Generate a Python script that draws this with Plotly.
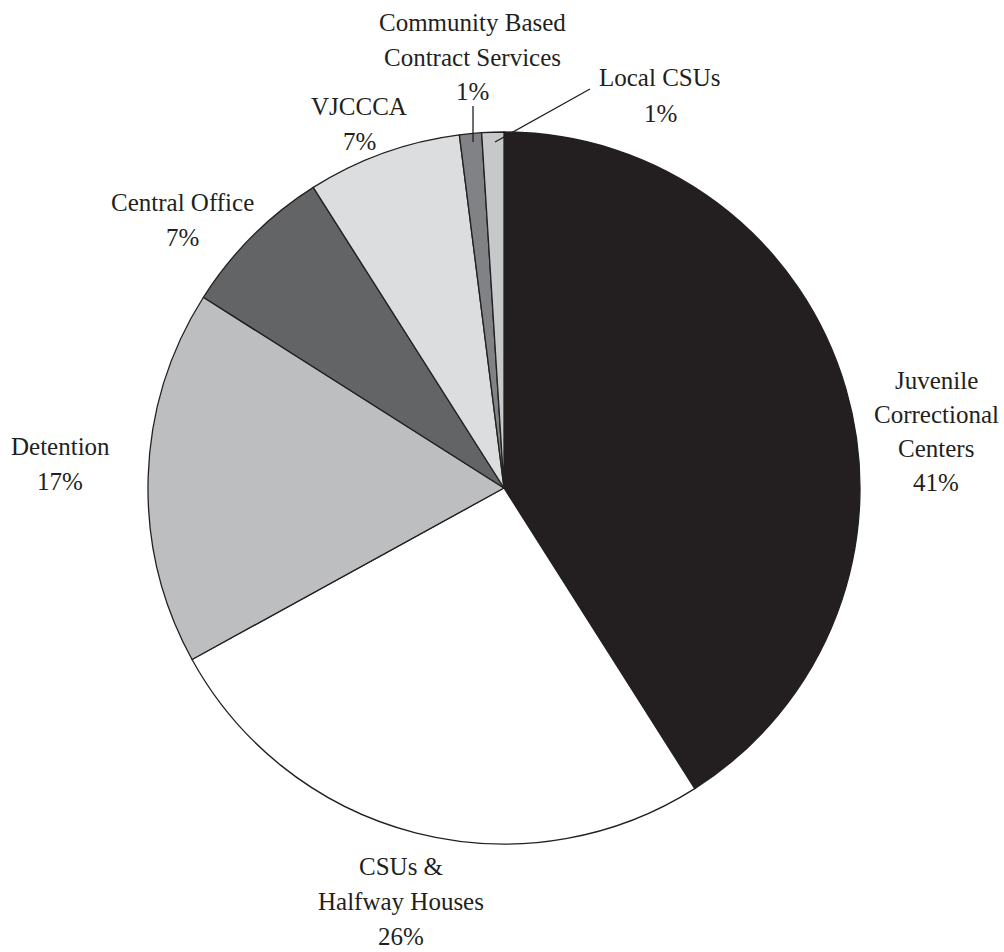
import plotly.graph_objects as go

# ---- data ----
categories = ["Juvenile Correctional Centers", "CSUs & Halfway Houses", "Detention",
              "Central Office", "VJCCCA", "Community Based Contract Services", "Local CSUs"]
values = [41, 26, 17, 7, 7, 1, 1]
label_lines = [["Juvenile", "Correctional", "Centers"],
               ["CSUs &", "Halfway Houses"],
               ["Detention"],
               ["Central Office"],
               ["VJCCCA"],
               ["Community Based", "Contract Services"],
               ["Local CSUs"]]
colors = ["#231f20", "#ffffff", "#bcbec0", "#636466", "#dcddde", "#808285", "#c7c8ca"]

# ---- layout (pixels) ----
W, H = 1004, 952
cx, cy, r = 504, 488, 356
label_pos = [(936, 380), (401, 866), (60, 446), (182, 202), (359, 106), (472, 22), (660, 77)]
line_gap = [34, 35, 35, 35, 35, 35, 36]
TEXT = "#231f20"
FONT = "Liberation Serif"
FS = 25


def px(x):
    return x / W


def py(y):
    return 1 - y / H


fig = go.Figure(go.Pie(
    labels=categories, values=values, sort=False, direction="clockwise", rotation=0,
    marker=dict(colors=colors, line=dict(color="#231f20", width=1.3)),
    textinfo="none", hoverinfo="label+percent", showlegend=False,
    domain=dict(x=[px(cx - r), px(cx + r)], y=[py(cy + r), py(cy - r)]),
))

annotations = []
for lines, v, (lx, ly), gap in zip(label_lines, values, label_pos, line_gap):
    all_lines = lines + [f"{v}%"]
    for i, t in enumerate(all_lines):
        annotations.append(dict(
            x=px(lx), y=py(ly + i * gap), xref="paper", yref="paper",
            text=t, showarrow=False, xanchor="center", yanchor="middle",
            font=dict(family=FONT, size=FS, color=TEXT)))

shapes = [
    dict(type="line", xref="paper", yref="paper", x0=px(473), y0=py(106), x1=px(473), y1=py(142),
         line=dict(color="#231f20", width=1.3)),
    dict(type="line", xref="paper", yref="paper", x0=px(590), y0=py(89), x1=px(495), y1=py(142),
         line=dict(color="#231f20", width=1.3)),
]

fig.update_layout(
    width=W, height=H, margin=dict(l=0, r=0, t=0, b=0),
    paper_bgcolor="white", plot_bgcolor="white",
    annotations=annotations, shapes=shapes,
)

fig.write_html("out.html", config={"displayModeBar": False},
               post_script="document.body.style.margin='0';document.body.style.overflow='hidden';")
